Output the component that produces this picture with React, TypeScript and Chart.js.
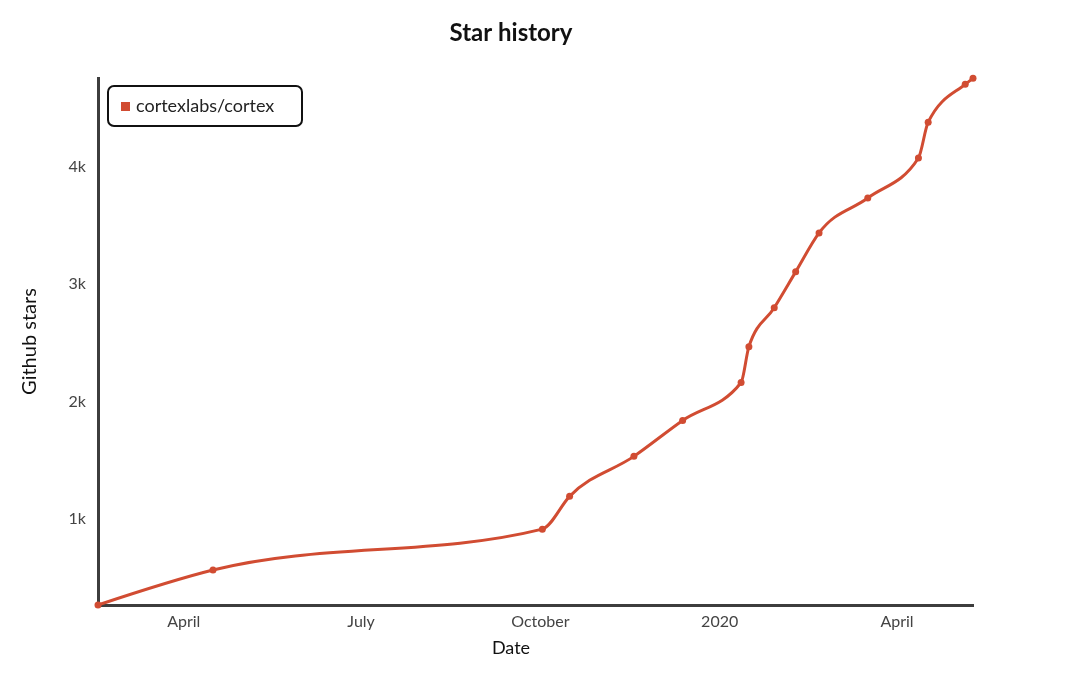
import React, { useEffect, useRef } from "react";
import { Chart, registerables } from "chart.js";

Chart.register(...registerables);

const TITLE = "Star history";
const SERIES_LABEL = "cortexlabs/cortex";
const X_TITLE = "Date";
const Y_TITLE = "Github stars";

const dates = [
  "2019-02-16",
  "2019-04-16",
  "2019-10-02",
  "2019-10-16",
  "2019-11-18",
  "2019-12-13",
  "2020-01-12",
  "2020-01-16",
  "2020-01-29",
  "2020-02-09",
  "2020-02-21",
  "2020-03-17",
  "2020-04-12",
  "2020-04-17",
  "2020-05-06",
  "2020-05-10",
];
const stars = [264, 562, 911, 1191, 1532, 1838, 2162, 2468, 2800, 3106, 3438, 3736, 4077, 4383, 4706, 4757];

const xTickDates = ["2019-04-01", "2019-07-01", "2019-10-01", "2020-01-01", "2020-04-01"];
const xTickLabels = ["April", "July", "October", "2020", "April"];
const yTickValues = [1000, 2000, 3000, 4000];
const yTickLabels = ["1k", "2k", "3k", "4k"];

const LINE_COLOR = "#d14c32";
const AXIS_COLOR = "#3d3d3d";
const TICK_COLOR = "#444444";
const FONT = "Lato, 'Open Sans', sans-serif";

const toMs = (d: string) => Date.parse(d + "T00:00:00Z");

// Monotone-X cubic control points (same rule as d3.curveMonotoneX), computed from the scaled points.
const monotoneX = {
  id: "monotoneX",
  beforeDatasetDraw(chart: any, args: any) {
    const meta = args.meta;
    const pts = meta.data;
    const n = pts.length;
    if (n < 3) return;
    const xs = pts.map((p: any) => p.x);
    const ys = pts.map((p: any) => p.y);
    const h: number[] = [];
    const s: number[] = [];
    for (let i = 0; i < n - 1; i++) {
      h[i] = xs[i + 1] - xs[i];
      s[i] = h[i] ? (ys[i + 1] - ys[i]) / h[i] : 0;
    }
    const m: number[] = new Array(n).fill(0);
    for (let i = 1; i < n - 1; i++) {
      const p = (s[i - 1] * h[i] + s[i] * h[i - 1]) / (h[i - 1] + h[i]);
      m[i] =
        (Math.sign(s[i - 1]) + Math.sign(s[i])) *
          Math.min(Math.abs(s[i - 1]), Math.abs(s[i]), 0.5 * Math.abs(p)) || 0;
    }
    m[0] = (3 * s[0] - m[1]) / 2;
    m[n - 1] = (3 * s[n - 2] - m[n - 2]) / 2;
    for (let i = 0; i < n - 1; i++) {
      const d = h[i] / 3;
      pts[i].cp2x = xs[i] + d;
      pts[i].cp2y = ys[i] + m[i] * d;
      pts[i + 1].cp1x = xs[i + 1] - d;
      pts[i + 1].cp1y = ys[i + 1] - m[i + 1] * d;
    }
    pts[0].cp1x = xs[0];
    pts[0].cp1y = ys[0];
    pts[n - 1].cp2x = xs[n - 1];
    pts[n - 1].cp2y = ys[n - 1];
    if (meta.dataset) {
      meta.dataset._pointsUpdated = true;
      meta.dataset._path = undefined;
    }
  },
};

const boxLegend = {
  id: "boxLegend",
  afterDraw(chart: any) {
    const { ctx, chartArea } = chart;
    const ds = chart.data.datasets[0];
    const x = chartArea.left + 10;
    const y = chartArea.top + 8;
    const w = 194;
    const h = 40;
    ctx.save();
    ctx.lineWidth = 2;
    ctx.strokeStyle = "#111";
    ctx.fillStyle = "#fff";
    ctx.beginPath();
    ctx.roundRect(x, y, w, h, 6);
    ctx.fill();
    ctx.stroke();
    ctx.fillStyle = ds.borderColor;
    ctx.fillRect(x + 13, y + 16, 9, 9);
    ctx.font = "18px " + FONT;
    ctx.fillStyle = "#222";
    ctx.textBaseline = "middle";
    ctx.textAlign = "left";
    ctx.fillText(ds.label, x + 28, y + h / 2);
    ctx.restore();
  },
};

export default function App() {
  const ref = useRef<HTMLCanvasElement | null>(null);

  useEffect(() => {
    if (!ref.current) return;
    const points = dates.map((d, i) => ({ x: toMs(d), y: stars[i] }));
    const chart = new Chart(ref.current, {
      type: "line",
      data: {
        datasets: [
          {
            label: SERIES_LABEL,
            data: points,
            borderColor: LINE_COLOR,
            backgroundColor: LINE_COLOR,
            borderWidth: 3,
            pointRadius: 3.5,
            pointBackgroundColor: LINE_COLOR,
            pointBorderWidth: 0,
            cubicInterpolationMode: "monotone",
            clip: false,
            yAxisID: "y",
          } as any,
        ],
      },
      plugins: [monotoneX, boxLegend],
      options: {
        animation: false,
        responsive: false,
        maintainAspectRatio: false,
        layout: { padding: { left: 0, right: 58, top: 0, bottom: 0 } },
        plugins: {
          legend: { display: false },
          tooltip: { enabled: false },
          title: {
            display: true,
            text: TITLE,
            color: "#111",
            font: { family: FONT, size: 24, weight: "bold" },
            padding: { top: 18.6, bottom: 30.6 },
          },
          subtitle: {
            display: true,
            position: "bottom",
            text: X_TITLE,
            color: "#111",
            font: { family: FONT, size: 18, weight: "normal" },
            padding: { top: 0, bottom: 16.2 },
          },
        },
        scales: {
          x: {
            type: "linear",
            min: toMs(dates[0]),
            max: toMs(dates[dates.length - 1]),
            grid: { display: false, drawTicks: false },
            border: { display: true, color: AXIS_COLOR, width: 3 },
            afterBuildTicks: (scale: any) => {
              scale.ticks = xTickDates.map((d) => ({ value: toMs(d) }));
            },
            afterFit: (scale: any) => {
              scale.height = 32.2;
            },
            ticks: {
              color: TICK_COLOR,
              padding: 7,
              maxRotation: 0,
              autoSkip: false,
              font: { family: FONT, size: 16 },
              callback: (v: any) => {
                const i = xTickDates.findIndex((d) => toMs(d) === v);
                return i >= 0 ? xTickLabels[i] : "";
              },
            },
          },
          y: {
            type: "linear",
            position: "left",
            min: stars[0],
            max: 4760,
            grid: { display: false, drawTicks: false },
            border: { display: true, color: AXIS_COLOR, width: 3 },
            afterBuildTicks: (scale: any) => {
              scale.ticks = yTickValues.map((v) => ({ value: v }));
            },
            afterFit: (scale: any) => {
              scale.width = 98;
            },
            ticks: {
              color: TICK_COLOR,
              padding: 12,
              font: { family: FONT, size: 16 },
              callback: (v: any) => {
                const i = yTickValues.indexOf(v);
                return i >= 0 ? yTickLabels[i] : "";
              },
            },
            title: {
              display: true,
              text: Y_TITLE,
              color: "#111",
              font: { family: FONT, size: 20 },
              padding: { top: 18, bottom: 0 },
            },
          },
          yRight: {
            type: "linear",
            position: "right",
            display: true,
            min: 0,
            max: 1,
            grid: { display: false, drawTicks: false },
            border: { display: false },
            ticks: { display: false },
            afterFit: (scale: any) => {
              scale.width = 49;
            },
          },
        },
      },
    });
    return () => chart.destroy();
  }, []);

  return (
    <div style={{ position: "fixed", left: 0, top: 0, width: 1080, height: 675, background: "#fff" }}>
      <canvas ref={ref} width={1080} height={675} style={{ width: 1080, height: 675 }} />
    </div>
  );
}
